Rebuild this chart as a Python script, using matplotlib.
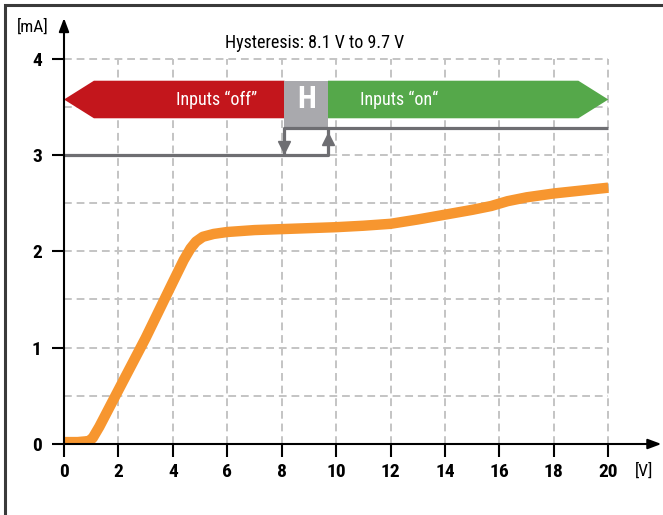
import matplotlib
matplotlib.use('Agg')
import matplotlib.pyplot as plt
from matplotlib.patches import Polygon, Rectangle

plt.rcParams['font.family'] = ['Roboto Condensed', 'Roboto', 'DejaVu Sans']

# current curve
voltage = [0, 0.5, 0.9, 1.05, 1.3, 2, 3, 4, 4.4, 4.65, 4.85, 5.1, 5.5, 6, 7, 8, 10, 11, 12,
           13, 14, 15, 15.7, 16.3, 17, 18, 19, 20]
current = [0.02, 0.02, 0.03, 0.06, 0.18, 0.56, 1.1, 1.68, 1.91, 2.03, 2.1, 2.15, 2.18, 2.2,
           2.22, 2.23, 2.25, 2.265, 2.285, 2.33, 2.38, 2.43, 2.47, 2.52, 2.56, 2.6, 2.63, 2.66]

x_ticks = [0, 2, 4, 6, 8, 10, 12, 14, 16, 18, 20]
y_ticks = [0, 1, 2, 3, 4]

# hysteresis band
hyst_lo = 8.1
hyst_hi = 9.7
title = 'Hysteresis: 8.1 V to 9.7 V'
label_off = 'Inputs \u201coff\u201d'
label_on = 'Inputs \u201con\u201c'

W, H = 663, 515
fig = plt.figure(figsize=(W / 100, H / 100), dpi=100)

# page frame (only left and top edges visible)
fig.patches.append(Rectangle((5 / W, -0.1), 1.2, 1 - 5 / H + 0.1, transform=fig.transFigure,
                             fill=False, edgecolor='#3a3a3a', linewidth=2.2))

ax_left, ax_right = 64 / W, 660 / W
ax_bottom, ax_top = 71 / H, (H - 20) / H
ax = fig.add_axes([ax_left, ax_bottom, ax_right - ax_left, ax_top - ax_bottom])
ax.set_xlim(0, 21.9)
ax.set_ylim(0, 4.4)
for s in ax.spines.values():
    s.set_visible(False)

# grid, only inside the 0..20 / 0..4 area
grid_kw = dict(color='#c4c4c4', linewidth=1.4, linestyles=(0, (4, 2.5)), zorder=1)
ax.vlines(x_ticks[1:], 0, 4, **grid_kw)
ax.hlines([0.5, 1, 1.5, 2, 2.5, 3, 3.5, 4], 0, 20, **grid_kw)

# axes with arrows
ax.annotate('', xy=(21.95, 0), xytext=(0, 0), annotation_clip=False,
            arrowprops=dict(arrowstyle='-|>,head_length=0.8,head_width=0.3', color='black',
                            lw=1.5, shrinkA=0, shrinkB=0), zorder=5)
ax.annotate('', xy=(0, 4.42), xytext=(0, 0), annotation_clip=False,
            arrowprops=dict(arrowstyle='-|>,head_length=0.8,head_width=0.3', color='black',
                            lw=1.5, shrinkA=0, shrinkB=0), zorder=5)

ax.set_xticks(x_ticks)
ax.set_yticks(y_ticks)
ax.tick_params(direction='out', length=9, width=1.5, color='black', labelsize=14)
ax.tick_params(axis='y', pad=7)
ax.tick_params(axis='x', pad=5)
for lbl in ax.get_xticklabels() + ax.get_yticklabels():
    lbl.set_fontweight('bold')

ax.text(-1.15, 4.33, '[mA]', fontsize=12.5, ha='center', va='center')
ax.text(21.3, -0.28, '[V]', fontsize=12.5, ha='center', va='center')
ax.text(9.2, 4.16, title, fontsize=13, ha='center', va='center')

# band geometry
top, bot, mid = 3.77, 3.38, 3.575
head = 1.1
red = Polygon([(0, mid), (head, top), (hyst_lo, top), (hyst_lo, bot), (head, bot)],
              closed=True, facecolor='#c3161c', edgecolor='none', zorder=3)
green = Polygon([(hyst_hi, top), (20 - head, top), (20, mid), (20 - head, bot), (hyst_hi, bot)],
                closed=True, facecolor='#55a84a', edgecolor='none', zorder=3)
ax.add_patch(red)
ax.add_patch(green)
upper = 3.28
ax.add_patch(Rectangle((hyst_lo, upper), hyst_hi - hyst_lo, top - upper,
                       facecolor='#a9a9ad', edgecolor='none', zorder=3))
ax.text(5.6, mid, label_off, color='white', fontsize=13, ha='center', va='center', zorder=4)
ax.text(12.3, mid, label_on, color='white', fontsize=13, ha='center', va='center', zorder=4)
ax.text((hyst_lo + hyst_hi) / 2, mid, 'H', color='white', fontsize=22, fontweight='bold',
        ha='center', va='center', zorder=4)

# hysteresis loop
gray = '#6e6e72'
ax.plot([0, hyst_hi, hyst_hi], [3, 3, upper], color=gray, lw=2.3, zorder=4, solid_capstyle='butt')
ax.plot([hyst_lo, hyst_lo, 20], [3, upper, upper], color=gray, lw=2.3, zorder=4, solid_capstyle='butt')
ax.plot([hyst_lo], [3.08], marker='v', markersize=9, color=gray, zorder=4)
ax.plot([hyst_hi], [3.16], marker='^', markersize=9, color=gray, zorder=4)

# current curve
ax.plot(voltage, current, color='#f7962f', lw=7.5, solid_capstyle='butt',
        solid_joinstyle='round', zorder=4)

fig.savefig('out.png', dpi=100)
